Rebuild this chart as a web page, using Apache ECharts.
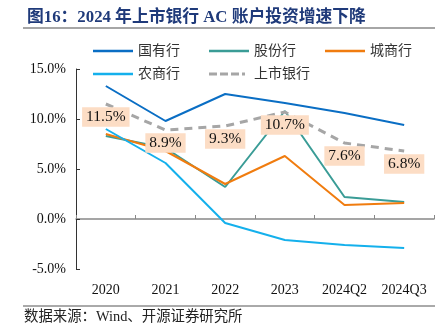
<!DOCTYPE html>
<html><head><meta charset="utf-8">
<script src="https://cdn.jsdelivr.net/npm/echarts@6/dist/echarts.min.js"></script>
<style>html,body{margin:0;padding:0;background:#fff}#c{width:445px;height:336px}</style>
</head><body><div id="c"></div>
<script>
const categories = ['2020','2021','2022','2023','2024Q2','2024Q3'];
const guoyou = [13.3, 9.8, 12.5, 11.6, 10.6, 9.4];
const gufen = [8.3, 7.1, 3.2, 10.8, 2.2, 1.7];
const chengshang = [8.5, 6.8, 3.5, 6.3, 1.4, 1.6];
const nongshang = [9.0, 5.6, -0.4, -2.1, -2.6, -2.9];
const listed = [11.5, 8.9, 9.3, 10.7, 7.6, 6.8];
const yTicks = [-5, 0, 5, 10, 15];

const serif = '"Liberation Serif","Noto Sans CJK SC",serif';
const cjk = '"Liberation Serif","Noto Sans CJK SC",sans-serif';
const chart = echarts.init(document.getElementById('c'));
const solidIcon = 'path://M0,0h40v2.5h-40z';
const dashIcon = 'path://M0,0h8v3h-8z M11,0h8v3h-8z M22,0h8v3h-8z M33,0h3v3h-3z M40,0h0v3h0z';
function line(name, data, color, extra) {
  return Object.assign({
    name, type: 'line', data, xAxisIndex: 0,
    symbol: 'circle', symbolSize: 0.01, showSymbol: true,
    lineStyle: { color, width: 2 }, itemStyle: { color }
  }, extra || {});
}
const legendCommon = {
  itemWidth: 40, itemHeight: 3, itemGap: 29,
  textStyle: { fontFamily: cjk, fontSize: 14, color: '#333' }
};
chart.setOption({
  animation: false,
  title: {
    text: '图16：2024 年上市银行 AC 账户投资增速下降',
    left: 22, top: 4,
    textStyle: { fontFamily: cjk, fontSize: 16.8, fontWeight: 'bold', color: '#1F3A7A' }
  },
  graphic: [
    { type: 'line', shape: { x1: 23, y1: 28, x2: 435, y2: 28 }, style: { stroke: '#888', lineWidth: 1.5 } },
    { type: 'line', shape: { x1: 23, y1: 306, x2: 435, y2: 306 }, style: { stroke: '#555', lineWidth: 1 } },
    { type: 'text', left: 24, top: 310, style: { text: '数据来源：Wind、开源证券研究所', font: '14.4px ' + cjk, fill: '#222' } }
  ],
  legend: [
    Object.assign({ left: 88, top: 39, data: [
      { name: '国有行', icon: solidIcon }, { name: '股份行', icon: solidIcon }, { name: '城商行', icon: solidIcon }
    ] }, legendCommon),
    Object.assign({ left: 88, top: 62, data: [
      { name: '农商行', icon: solidIcon }, { name: '上市银行', icon: dashIcon }
    ] }, legendCommon)
  ],
  grid: { left: 76, right: 11, top: 69, bottom: 67 },
  xAxis: [
    { type: 'category', data: categories, position: 'bottom',
      axisLine: { show: false, onZero: false }, axisTick: { show: false },
      axisLabel: { fontFamily: serif, fontSize: 14, color: '#111', margin: 14 } },
    { type: 'category', data: categories, position: 'bottom',
      axisLine: { onZero: true, lineStyle: { color: '#888', width: 1.5 } },
      axisTick: { show: true, inside: true, length: 4, lineStyle: { color: '#888' } },
      axisLabel: { show: false } }
  ],
  yAxis: {
    type: 'value', min: yTicks[0], max: yTicks[yTicks.length - 1], interval: 5,
    splitLine: { show: false },
    axisLine: { show: true, lineStyle: { color: '#333' } },
    axisTick: { show: true, inside: true, length: 4, lineStyle: { color: '#333' } },
    axisLabel: { fontFamily: serif, fontSize: 14, color: '#111', margin: 10,
      formatter: v => v.toFixed(1) + '%' }
  },
  series: [
    line('国有行', guoyou, '#0A6EC4'),
    line('股份行', gufen, '#3A9C96'),
    line('城商行', chengshang, '#F07C0F'),
    line('农商行', nongshang, '#14B0EC'),
    line('上市银行', listed, '#A6A6A6', {
      lineStyle: { color: '#A6A6A6', width: 3, type: [8, 6] },
      label: { show: true, position: 'inside', offset: [0, 13],
        formatter: p => p.value.toFixed(1) + '%',
        fontFamily: serif, fontSize: 15.5, color: '#111',
        backgroundColor: '#FCDDC5', padding: [3, 4, 1, 4] }
    })
  ]
});
</script></body></html>
